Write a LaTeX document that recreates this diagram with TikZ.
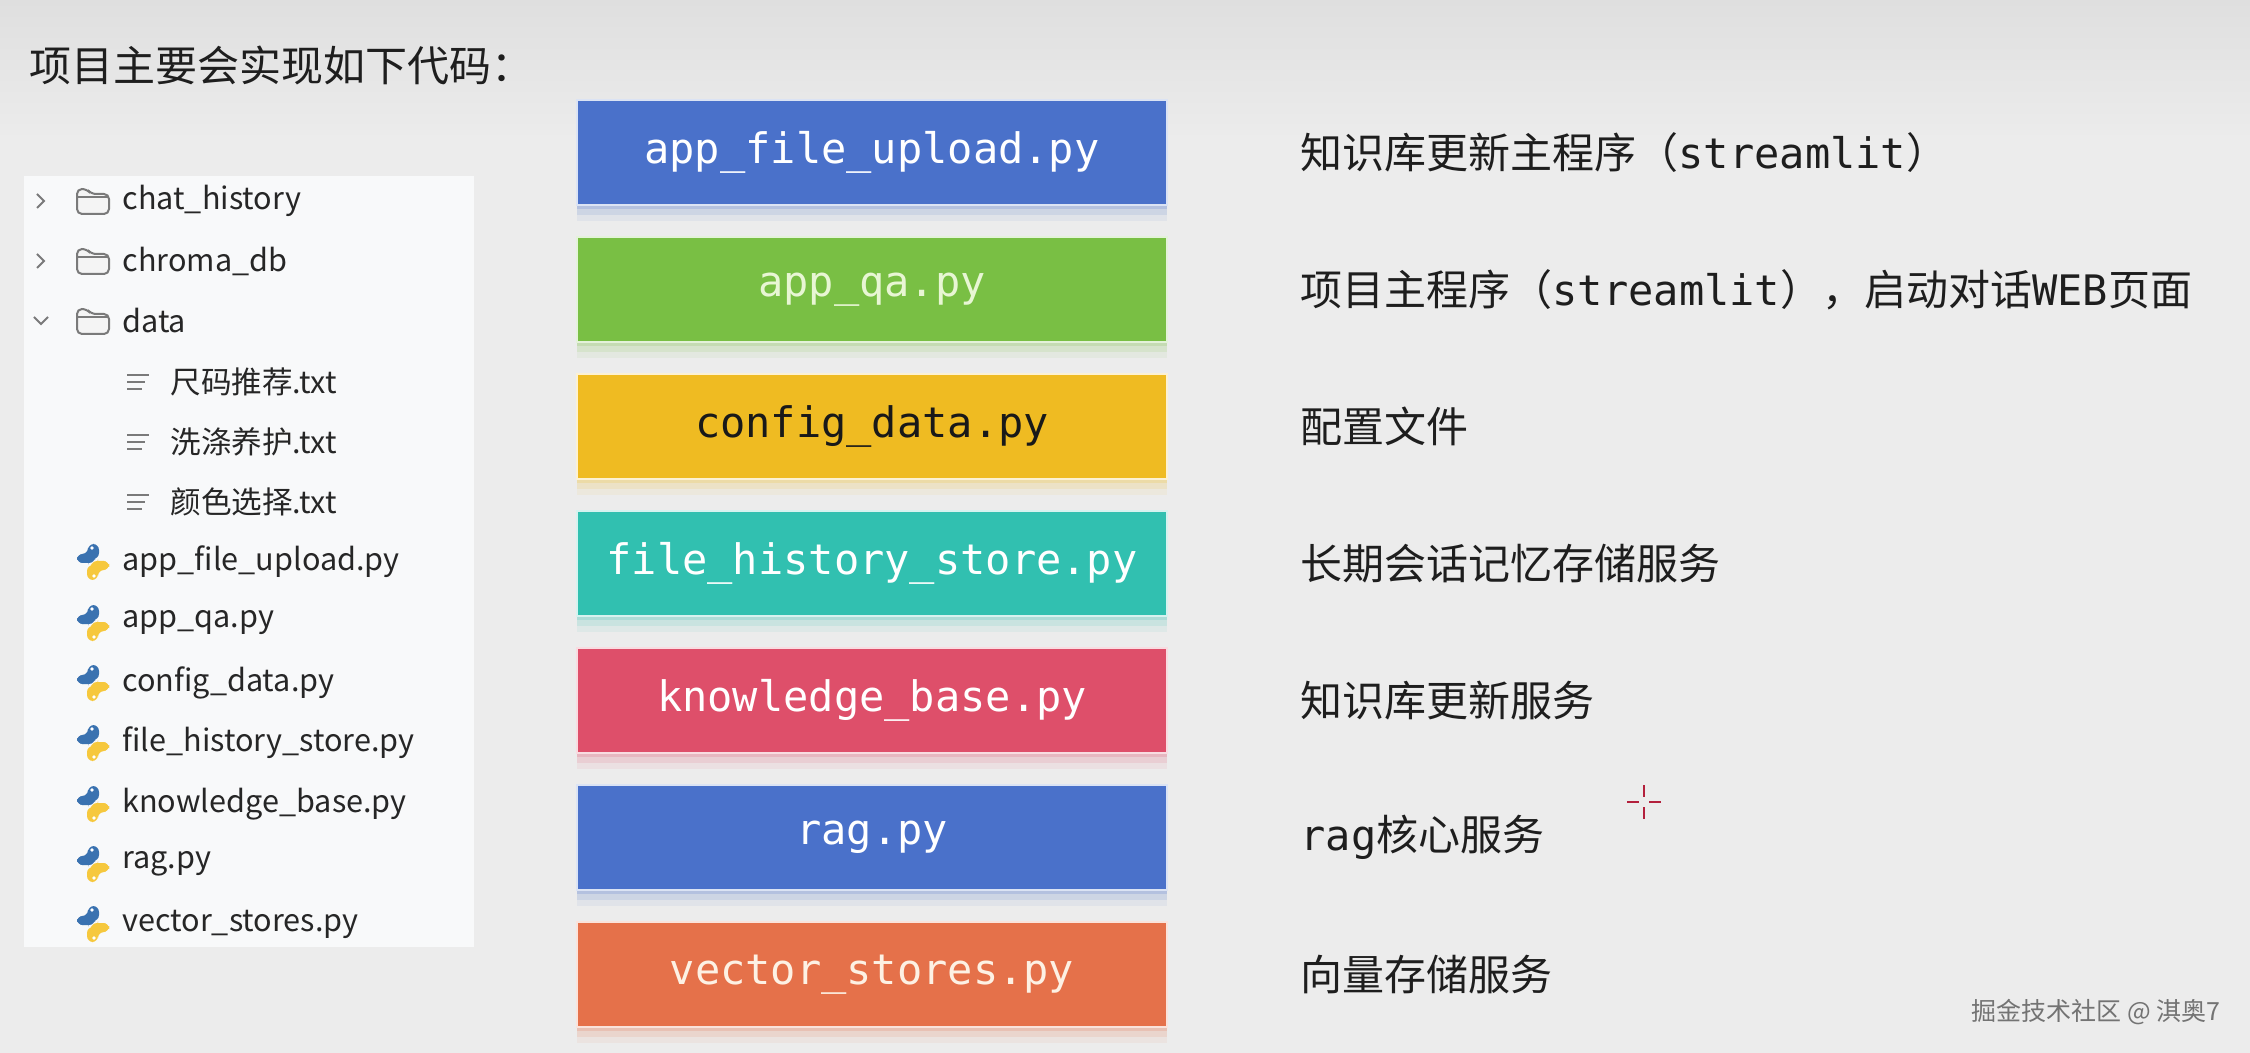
\documentclass[tikz,border=0pt]{standalone}
\usepackage{fontspec}
\setmainfont{Noto Sans CJK SC}
\newfontfamily\mono{DejaVu Sans Mono}
\usetikzlibrary{positioning,shadows}
\definecolor{bgtop}{HTML}{DFDFDF}
\definecolor{bgmain}{HTML}{ECECEC}
\definecolor{panel}{HTML}{F8F9FA}
\definecolor{textdark}{HTML}{1E1E1E}
\definecolor{treetext}{HTML}{262626}
\definecolor{icongray}{HTML}{7A7A7A}
\definecolor{boxblue}{HTML}{4A71CA}
\definecolor{boxgreen}{HTML}{79BF44}
\definecolor{boxyellow}{HTML}{EFBB22}
\definecolor{boxteal}{HTML}{31C0B0}
\definecolor{boxred}{HTML}{DE4F6A}
\definecolor{boxorange}{HTML}{E5714A}
\definecolor{greentext}{HTML}{E8F6D4}
\definecolor{orangetext}{HTML}{FDF1E4}
\definecolor{pyblue}{HTML}{3A72B0}
\definecolor{pyyellow}{HTML}{F6C83D}
\definecolor{crossred}{HTML}{B3203C}
\tikzset{
    %Define style for the coloured file boxes
    filebox/.style={
           rectangle,
           draw=white!80!#1, line width=1.2pt,
           fill=#1,
           minimum width=295pt,
           minimum height=52.5pt,
           font=\mono\fontsize{21}{25}\selectfont,
           text=white,
           text centered,
           drop shadow={shadow xshift=0pt, shadow yshift=-2pt, opacity=.18, fill=#1},
           drop shadow={shadow xshift=0pt, shadow yshift=-5pt, opacity=.12, fill=#1},
           drop shadow={shadow xshift=0pt, shadow yshift=-8pt, opacity=.07, fill=#1}},
    %Define style for the descriptions
    desc/.style={
           anchor=west,
           inner sep=0pt,
           font=\fontsize{21}{25}\selectfont,
           text=textdark},
    %Define style for the tree entries
    treeitem/.style={
           anchor=west,
           inner sep=0pt,
           font=\fontsize{15.3}{18}\selectfont,
           text=treetext},
    % Icons of the file tree
    chevright/.pic={\draw[icongray, line width=1pt] (-4,-7) -- (3,0) -- (-4,7);},
    chevdown/.pic={\draw[icongray, line width=1pt] (-7,-4) -- (0,3) -- (7,-4);},
    folder/.pic={
           \draw[icongray, line width=1pt, fill=white!92!icongray, rounded corners=2.5pt]
               (-16,13) -- (-16,-12) -- (-6,-12) -- (-2,-7) -- (16,-7) -- (16,13) -- cycle;
           \draw[icongray, line width=1pt] (-16,-4) -- (16,-4);},
    txtfile/.pic={
           \draw[icongray, line width=1.3pt]
               (-11,-7) -- (11,-7) (-11,0) -- (7,0) (-11,7) -- (4,7);},
    pyfile/.pic={
           \fill[pyblue, rounded corners=3pt]
               (-5,-18) -- (6,-18) -- (6,-3) -- (-5,-3) -- (-5,1) -- (-16,1) -- (-16,-8) -- (-5,-8) -- cycle;
           \fill[pyblue, rounded corners=3pt] (-16,-8) rectangle (2,1);
           \fill[pyyellow, rounded corners=3pt]
               (5,18) -- (-6,18) -- (-6,3) -- (5,3) -- (5,-1) -- (16,-1) -- (16,8) -- (5,8) -- cycle;
           \fill[pyyellow, rounded corners=3pt] (-2,-1) rectangle (16,8);
           \fill[white] (-1,-14) circle (1.8) (1,14) circle (1.8);}
}
\begin{document}
\begin{tikzpicture}[x=0.5pt,y=-0.5pt,node distance=14.8pt]
\useasboundingbox (0,0) rectangle (2250,1053);
% background
\fill[bgmain] (0,0) rectangle (2250,1053);
\shade[top color=bgtop, bottom color=bgmain] (0,0) rectangle (2250,140);

% title
\node[anchor=west, inner sep=0pt, font=\fontsize{21}{25}\selectfont, text=textdark]
    (title) at (29,65) {项目主要会实现如下代码：};

% file tree
\fill[panel] (24,176) rectangle (474,947);
\pic at (41,201) {chevright};
\pic at (41,261) {chevright};
\pic at (41,321) {chevdown};
\pic at (93,201) {folder};
\pic at (93,261) {folder};
\pic at (93,321) {folder};
\pic at (138,382) {txtfile};
\pic at (138,442) {txtfile};
\pic at (138,502) {txtfile};
\pic at (93,562) {pyfile};
\pic at (93,623) {pyfile};
\pic at (93,683) {pyfile};
\pic at (93,743) {pyfile};
\pic at (93,804) {pyfile};
\pic at (93,864) {pyfile};
\pic at (93,924) {pyfile};
\node[treeitem] (t1) at (122,201) {chat\_history};
\node[treeitem] (t2) at (122,261) {chroma\_db};
\node[treeitem] (t3) at (122,321) {data};
\node[treeitem] (t4) at (170,382) {尺码推荐.txt};
\node[treeitem] (t5) at (170,442) {洗涤养护.txt};
\node[treeitem] (t6) at (170,502) {颜色选择.txt};
\node[treeitem] (t7) at (122,562) {app\_file\_upload.py};
\node[treeitem] (t8) at (122,623) {app\_qa.py};
\node[treeitem] (t9) at (122,683) {config\_data.py};
\node[treeitem] (t10) at (122,743) {file\_history\_store.py};
\node[treeitem] (t11) at (122,804) {knowledge\_base.py};
\node[treeitem] (t12) at (122,864) {rag.py};
\node[treeitem] (t13) at (122,924) {vector\_stores.py};

% coloured file boxes
\node[filebox=boxblue] (upload) at (872,152.5) {app\_file\_upload.py};
\node[filebox=boxgreen, text=greentext, below=of upload] (qa) {app\_qa.py};
\node[filebox=boxyellow, text=black!90, below=of qa] (config) {config\_data.py};
\node[filebox=boxteal, below=of config] (history) {file\_history\_store.py};
\node[filebox=boxred, below=of history] (kb) {knowledge\_base.py};
\node[filebox=boxblue, below=of kb] (rag) {rag.py};
\node[filebox=boxorange, text=orangetext, below=of rag] (vector) {vector\_stores.py};

% descriptions
\node[desc, right=66pt of upload] (dupload) {知识库更新主程序（{\mono streamlit}）};
\node[desc, right=66pt of qa] (dqa) {项目主程序（{\mono streamlit}），启动对话{\mono WEB}页面};
\node[desc, right=66pt of config] (dconfig) {配置文件};
\node[desc, right=66pt of history] (dhistory) {长期会话记忆存储服务};
\node[desc, right=66pt of kb] (dkb) {知识库更新服务};
\node[desc, right=66pt of rag] (drag) {{\mono rag}核心服务};
\node[desc, right=66pt of vector] (dvector) {向量存储服务};

% cursor and watermark
\draw[crossred, line width=1.2pt]
    (1627,802) -- (1639,802) (1649,802) -- (1661,802)
    (1644,785) -- (1644,797) (1644,807) -- (1644,819);
\node[anchor=east, inner sep=0pt, font=\fontsize{12.5}{15}\selectfont, text=black!55]
    (mark) at (2221,1012) {掘金技术社区 @ 淇奥7};
\end{tikzpicture}
\end{document}
